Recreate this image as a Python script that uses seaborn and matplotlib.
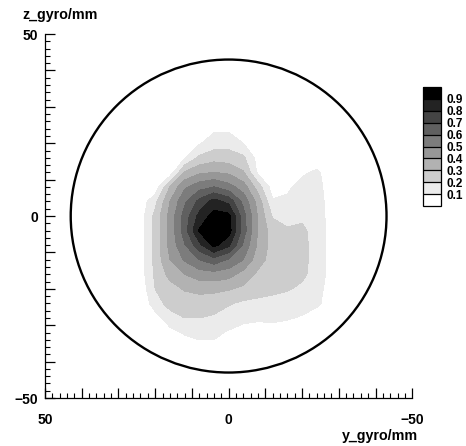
import matplotlib
matplotlib.use("Agg")
import matplotlib.pyplot as plt
import matplotlib.ticker as mticker
from matplotlib.patches import Circle
import seaborn as sns

# =========================================
# STYLE
# =========================================

sns.set_theme(style="ticks")
plt.rcParams['font.family'] = ['Liberation Sans', 'DejaVu Sans']
plt.rcParams['font.weight'] = 'bold'
plt.rcParams['text.color'] = 'black'
plt.rcParams['xtick.color'] = 'black'
plt.rcParams['ytick.color'] = 'black'

# =========================================
# DATA (4 mm grid)
# =========================================

y_gyro = [28, 24, 20, 16, 12, 8, 4, 0, -4, -8, -12, -16, -20, -24, -28, -32]
z_gyro = [28, 24, 20, 16, 12, 8, 4, 0, -4, -8, -12, -16, -20, -24, -28, -32, -36]

# one row per z_gyro value, columns follow y_gyro
intensity = [
    [0, 0, 0, 0, 0, 0.01, 0.02, 0.02, 0.01, 0, 0, 0, 0, 0, 0, 0],
    [0, 0, 0, 0, 0, 0.04, 0.08, 0.08, 0.06, 0.02, 0, 0, 0, 0, 0, 0],
    [0, 0, 0, 0.02, 0.05, 0.09, 0.15, 0.16, 0.10, 0.06, 0.03, 0.01, 0.02, 0.02, 0, 0],
    [0, 0, 0, 0.03, 0.09, 0.22, 0.26, 0.25, 0.22, 0.06, 0.04, 0.04, 0.06, 0.06, 0.02, 0],
    [0, 0, 0.02, 0.03, 0.31, 0.38, 0.40, 0.38, 0.31, 0.08, 0.06, 0.07, 0.09, 0.11, 0.07, 0.02],
    [0, 0, 0.03, 0.30, 0.48, 0.56, 0.60, 0.54, 0.45, 0.25, 0.05, 0.09, 0.12, 0.12, 0.07, 0.02],
    [0, 0.04, 0.17, 0.40, 0.58, 0.73, 0.84, 0.77, 0.57, 0.36, 0.11, 0.11, 0.15, 0.14, 0.06, 0.01],
    [0, 0.05, 0.23, 0.43, 0.64, 0.83, 0.94, 0.93, 0.64, 0.39, 0.19, 0.17, 0.18, 0.15, 0.06, 0.01],
    [0, 0.05, 0.23, 0.43, 0.65, 0.91, 0.99, 0.95, 0.65, 0.39, 0.25, 0.21, 0.22, 0.16, 0.06, 0.01],
    [0, 0.05, 0.23, 0.43, 0.59, 0.77, 0.93, 0.82, 0.58, 0.38, 0.26, 0.25, 0.23, 0.16, 0.06, 0.01],
    [0, 0.05, 0.23, 0.40, 0.51, 0.60, 0.66, 0.59, 0.50, 0.34, 0.26, 0.25, 0.23, 0.16, 0.06, 0.01],
    [0, 0.05, 0.22, 0.33, 0.40, 0.45, 0.46, 0.44, 0.36, 0.28, 0.25, 0.24, 0.22, 0.16, 0.06, 0.01],
    [0, 0.03, 0.20, 0.26, 0.31, 0.33, 0.33, 0.31, 0.28, 0.25, 0.23, 0.21, 0.18, 0.14, 0.05, 0],
    [0, 0.02, 0.15, 0.24, 0.24, 0.25, 0.23, 0.21, 0.18, 0.17, 0.16, 0.15, 0.14, 0.12, 0.05, 0],
    [0, 0, 0.06, 0.15, 0.20, 0.20, 0.19, 0.15, 0.12, 0.11, 0.12, 0.11, 0.09, 0.05, 0.01, 0],
    [0, 0, 0, 0.07, 0.11, 0.12, 0.12, 0.09, 0.07, 0.07, 0.06, 0.04, 0.02, 0, 0, 0],
    [0, 0, 0, 0, 0.05, 0.08, 0.08, 0.04, 0.01, 0, 0, 0, 0, 0, 0, 0],
]

levels = [0.0, 0.1, 0.2, 0.3, 0.4, 0.5, 0.6, 0.7, 0.8, 0.9, 1.0]
level_labels = ['0.1', '0.2', '0.3', '0.4', '0.5', '0.6', '0.7', '0.8', '0.9']
greys = ['#ffffff', '#ebebeb', '#cdcdcd', '#b2b2b2', '#979797',
         '#7c7c7c', '#606060', '#444444', '#232323', '#000000']

aperture_center = (0, 0)
aperture_radius = 43

# =========================================
# PLOT
# =========================================

fig = plt.figure(figsize=(4.66, 4.46), dpi=100)
ax = fig.add_axes([0.0966, 0.1076, 0.788, 0.816])

cf = ax.contourf(y_gyro, z_gyro, intensity, levels=levels, colors=greys)
ax.add_patch(Circle(aperture_center, aperture_radius, fill=False,
                    edgecolor='black', linewidth=1.7))

ax.set_xlim(50, -50)
ax.set_ylim(-50, 50)
ax.set_facecolor('white')
sns.despine(ax=ax)
for side in ['left', 'bottom']:
    ax.spines[side].set_color('black')
    ax.spines[side].set_linewidth(0.9)

def only_ends(v, _):
    if round(v) in (-50, 0, 50):
        return f'{int(round(v))}'.replace('-', '\u2212')
    return ''

for axis in (ax.xaxis, ax.yaxis):
    axis.set_major_locator(mticker.MultipleLocator(10))
    axis.set_minor_locator(mticker.MultipleLocator(2))
    axis.set_major_formatter(mticker.FuncFormatter(only_ends))

ax.tick_params(which='major', direction='in', length=7, width=0.9,
               color='black', labelsize=10, labelcolor='black')
ax.tick_params(which='minor', direction='in', length=3.5, width=0.8,
               color='black')
ax.tick_params(axis='x', which='major', pad=11)
ax.tick_params(axis='y', which='major', pad=5)
ax.tick_params(top=False, right=False, which='both')

fig.text(22 / 466, 1 - 15 / 446, 'z_gyro/mm', fontsize=10.3,
         fontweight='bold', color='black', ha='left', va='center')
fig.text(418 / 466, 1 - 436 / 446, 'y_gyro/mm', fontsize=10.3,
         fontweight='bold', color='black', ha='right', va='center')

# colour scale
cax = fig.add_axes([423 / 466, 1 - 206 / 446, 18 / 466, 119 / 446])
cb = fig.colorbar(cf, cax=cax, ticks=levels[1:-1], drawedges=True)
cb.ax.set_yticklabels(level_labels, fontsize=8.5, fontweight='bold')
cb.ax.tick_params(length=0, pad=4, labelcolor='black')
cb.outline.set_edgecolor('black')
cb.outline.set_linewidth(0.9)
cb.dividers.set_color('black')
cb.dividers.set_linewidth(0.9)

fig.savefig('out.png', dpi=100)
